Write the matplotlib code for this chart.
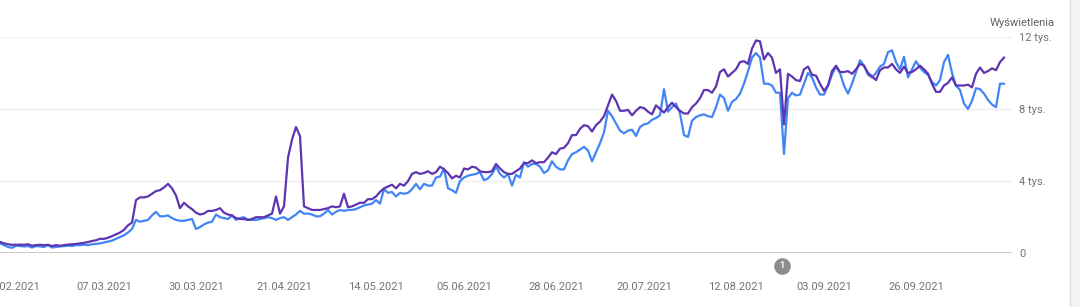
import numpy as np
import pandas as pd
import matplotlib
matplotlib.use("Agg")
import matplotlib.pyplot as plt
from matplotlib.patches import Rectangle

# dane (tys. wyświetleń dziennie), od 09.02.2021
start_date = "2021-02-09"
fioletowa = [
    0.63, 0.55, 0.5, 0.47, 0.47, 0.48, 0.47, 0.5, 0.42, 0.45,
    0.47, 0.45, 0.47, 0.4, 0.45, 0.42, 0.45, 0.48, 0.5, 0.52,
    0.55, 0.58, 0.62, 0.68, 0.72, 0.8, 0.8, 0.86, 0.95, 1.05,
    1.15, 1.3, 1.55, 1.7, 2.95, 3.1, 3.1, 3.15, 3.3, 3.45,
    3.5, 3.65, 3.85, 3.6, 3.2, 2.5, 2.8, 2.6, 2.45, 2.25,
    2.15, 2.2, 2.35, 2.35, 2.4, 2.5, 2.25, 2.15, 2.1, 1.95,
    1.9, 1.9, 1.85, 1.9, 2.0, 2.0, 2.0, 2.1, 2.2, 3.15,
    2.2, 2.6, 5.3, 6.3, 7.0, 6.5, 2.6, 2.5, 2.4, 2.4,
    2.4, 2.45, 2.5, 2.6, 2.55, 2.6, 3.3, 2.55, 2.6, 2.7,
    2.8, 2.8, 3.0, 3.0, 3.15, 3.4, 3.6, 3.7, 3.8, 3.6,
    3.85, 3.75, 4.0, 4.4, 4.5, 4.4, 4.45, 4.55, 4.4, 4.5,
    4.8, 4.65, 4.45, 4.15, 4.3, 4.2, 4.7, 4.65, 4.8, 4.75,
    4.55, 4.5, 4.5, 4.55, 4.95, 4.7, 4.5, 4.4, 4.4, 4.55,
    4.7, 5.0, 5.0, 5.15, 5.0, 5.05, 5.05, 5.3, 5.6, 5.5,
    5.8, 5.85, 6.1, 6.55, 6.55, 6.9, 7.1, 7.05, 6.75, 7.1,
    7.3, 7.6, 8.2, 8.8, 8.45, 7.9, 7.9, 7.95, 7.65, 7.9,
    8.1, 8.05, 7.85, 7.7, 8.2, 8.0, 7.8, 8.1, 8.35, 8.1,
    7.9, 7.75, 7.75, 8.1, 8.3, 8.6, 9.05, 9.05, 8.9, 9.25,
    10.05, 10.2, 9.8, 10.0, 10.2, 10.6, 10.65, 10.5, 11.35, 11.8,
    11.75, 10.75, 11.1, 10.85, 10.0, 10.2, 7.15, 9.95, 9.8, 9.6,
    9.55, 10.2, 10.35, 9.9, 9.85, 9.4, 9.0, 9.3, 10.1, 10.4,
    10.05, 10.05, 10.1, 9.95, 10.2, 10.5, 10.4, 10.0, 9.8, 9.6,
    10.15, 10.3, 10.3, 10.5, 10.2, 10.0, 10.35, 10.0, 10.05, 10.2,
    10.4, 10.2, 9.95, 9.4, 8.95, 8.95, 9.3, 9.45, 9.75, 9.3,
    9.3, 9.3, 9.35, 9.2, 9.95, 10.3, 10.0, 10.1, 10.25, 10.15,
    10.6, 10.85,
]
niebieska = [
    0.55, 0.45, 0.35, 0.3, 0.42, 0.4, 0.38, 0.4, 0.32, 0.4,
    0.38, 0.35, 0.45, 0.32, 0.35, 0.38, 0.4, 0.42, 0.4, 0.45,
    0.45, 0.48, 0.45, 0.5, 0.52, 0.55, 0.6, 0.65, 0.7, 0.8,
    0.9, 1.0, 1.15, 1.35, 1.85, 1.75, 1.8, 1.85, 2.1, 2.3,
    2.05, 2.05, 2.1, 1.95, 1.85, 1.8, 1.8, 1.85, 1.9, 1.35,
    1.45, 1.6, 1.7, 1.75, 2.15, 2.0, 1.95, 1.9, 2.1, 1.85,
    1.95, 2.0, 1.85, 1.85, 1.85, 1.9, 1.95, 2.0, 1.95, 1.85,
    1.95, 2.0, 1.85, 2.0, 2.15, 2.35, 2.2, 2.2, 2.15, 2.05,
    2.05, 2.2, 2.4, 2.15, 2.3, 2.4, 2.35, 2.4, 2.4, 2.45,
    2.55, 2.65, 2.7, 2.75, 2.95, 2.75, 3.55, 3.35, 3.4, 3.15,
    3.35, 3.3, 3.35, 3.55, 3.85, 3.55, 3.85, 3.75, 3.75, 4.2,
    4.25, 4.7, 3.6, 3.5, 3.35, 4.0, 4.2, 4.3, 4.35, 4.4,
    4.5, 4.05, 4.15, 4.4, 4.8, 4.4, 4.2, 4.4, 3.75, 4.35,
    4.2, 5.05, 4.8, 4.95, 4.95, 4.8, 4.45, 4.6, 5.1, 4.8,
    4.65, 4.65, 5.15, 5.5, 5.6, 5.75, 5.9, 5.7, 5.1, 5.6,
    6.1, 6.7, 7.9, 7.6, 7.2, 6.8, 6.65, 6.8, 6.85, 6.5,
    7.0, 7.15, 7.2, 7.4, 7.5, 7.65, 9.1, 7.85, 8.1, 8.3,
    7.75, 6.55, 6.45, 7.35, 7.55, 7.65, 7.7, 7.6, 7.55, 8.1,
    8.8, 8.6, 7.9, 8.4, 8.55, 8.85, 9.4, 10.1, 10.85, 11.1,
    10.85, 9.4, 9.4, 9.3, 8.9, 8.9, 5.5, 8.6, 8.9, 8.75,
    8.8, 9.4, 10.0, 9.75, 9.2, 8.8, 8.8, 9.3, 9.9, 10.35,
    10.0, 9.3, 8.85, 9.4, 10.05, 10.7, 10.4, 9.9, 9.75, 10.0,
    10.35, 10.5, 11.15, 11.25, 10.6, 10.2, 10.9, 9.75, 10.2, 10.65,
    10.3, 10.05, 9.9, 9.5, 9.3, 9.6, 10.6, 11.0, 10.0, 9.3,
    9.05, 8.3, 8.0, 8.45, 9.15, 9.1, 8.85, 8.5, 8.25, 8.1,
    9.4, 9.4,
]
etykiety_x = ["12.02.2021", "07.03.2021", "30.03.2021", "21.04.2021",
              "14.05.2021", "05.06.2021", "28.06.2021", "20.07.2021",
              "12.08.2021", "03.09.2021", "26.09.2021"]
y_ticks = [0, 4, 8, 12]
y_labels = ["0", "4 tys.", "8 tys.", "12 tys."]
adnotacje = ["2021-08-23"]

plt.rcParams['font.family'] = ['Roboto', 'DejaVu Sans']

daty = pd.date_range(start_date, periods=len(fioletowa), freq="D")
tick_daty = pd.to_datetime(etykiety_x, format="%d.%m.%Y")

fig = plt.figure(figsize=(10.8, 3.07), dpi=100)
ax = fig.add_axes([0.0, 0.175, 1012 / 1080, 0.705])

ax.plot(daty, niebieska, color="#4285f4", lw=1.6, zorder=3)
ax.plot(daty, fioletowa, color="#5e35b1", lw=1.6, zorder=4)

x0 = pd.Timestamp(start_date)
ax.set_xlim(x0, x0 + pd.Timedelta(days=253))
ax.set_ylim(0, 12)

for v in y_ticks[1:]:
    ax.axhline(v, color="#efefef", lw=1.0, zorder=1)
ax.axhline(0, color="#bdbdbd", lw=1.2, zorder=2)

for s in ax.spines.values():
    s.set_visible(False)
ax.patch.set_visible(False)

ax.yaxis.tick_right()
ax.set_yticks(y_ticks)
ax.set_yticklabels(y_labels)
ax.tick_params(axis="y", length=0, pad=5, labelsize=8, labelcolor="#757575")
ax.set_xticks(tick_daty)
ax.set_xticklabels(etykiety_x)
ax.tick_params(axis="x", length=0, pad=21, labelsize=8, labelcolor="#757575")

# znacznik adnotacji
for d in adnotacje:
    xd = pd.Timestamp(d) + pd.Timedelta(hours=12)
    ax.plot([xd], [-0.7], marker="o", ms=12, color="#8d8d8d", mec="none",
            clip_on=False, zorder=5)
    ax.text(xd, -0.7, "1", ha="center", va="center", color="white",
            fontsize=6.5, fontweight="bold", clip_on=False, zorder=6)

fig.text(1055 / 1080, 1 - 22.7 / 307, "Wyświetlenia", ha="right", va="center",
         fontsize=8, color="#616161")

# pasek z prawej strony
fig.patches.append(Rectangle((1070 / 1080, 0), 10 / 1080, 1, transform=fig.transFigure,
                             facecolor="#f3f3f3", edgecolor="none"))
fig.lines.append(plt.Line2D([1070 / 1080, 1070 / 1080], [0, 1], transform=fig.transFigure,
                            color="#e0e0e0", lw=1))

fig.savefig("out.png", dpi=100, facecolor="white")
